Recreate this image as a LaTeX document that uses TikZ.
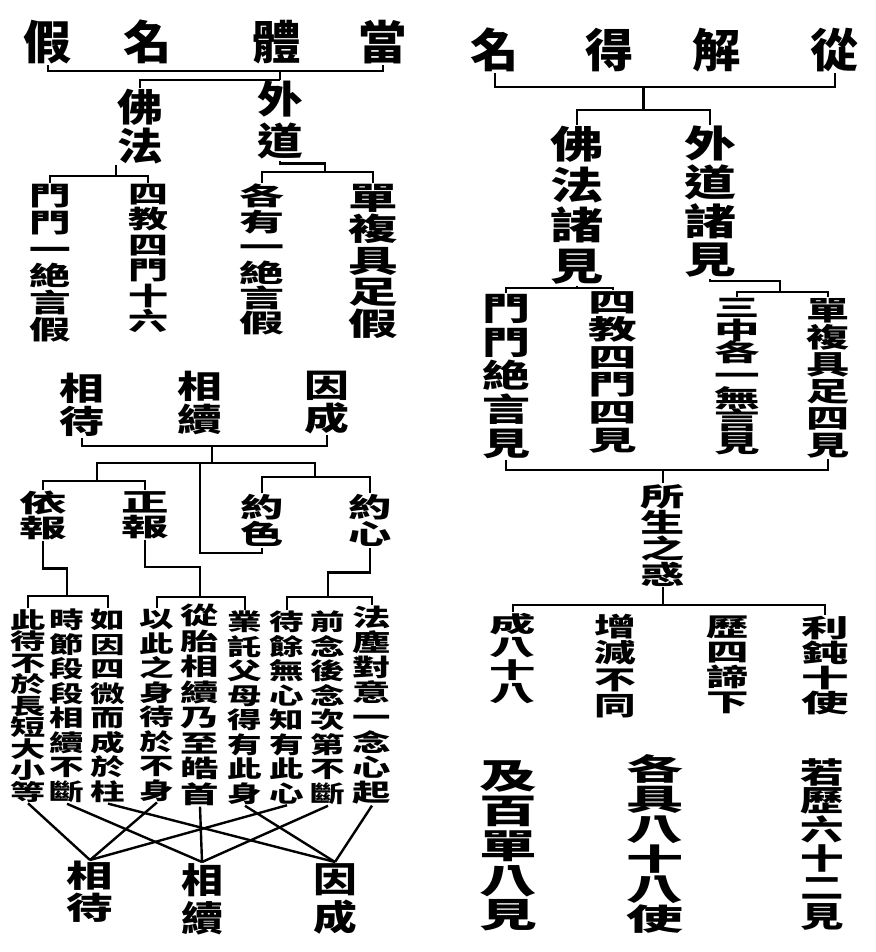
\documentclass[tikz,border=0pt]{standalone}
\usepackage{fontspec}
\newfontfamily\cjk{Noto Sans CJK TC}
\usetikzlibrary{calc}
\newcommand{\cf}[2]{\fontsize{#1}{#2}\selectfont\lineskiplimit=-100pt\relax\cjk\bfseries}

\begin{document}
\begin{tikzpicture}[x=1pt,y=-1pt]
  \tikzset{
      every node/.append style = {
          inner sep = 0pt,
          align = center
      },
      every path/.append style = {
          line width = 2.4pt
      },
      title/.style = {
          font = \cf{46}{46},
          xscale = 1.05
      },
      col/.style = {
          anchor = north
      }
  }
  \useasboundingbox (0,0) rectangle (875,952);

  % left tree
  \node[title] (hl1) at (48,42) {假};
  \node[title] (hl2) at (148,42) {名};
  \node[title] (hl3) at (277,42) {體};
  \node[title] (hl4) at (383,42) {當};
  \node[col, xscale=1.2, font=\cf{38}{39}] (fofa) at (140,88) {佛\\法};
  \node[col, xscale=1.2, font=\cf{38}{42}] (waidao) at (280,80) {外\\道};
  \node[col, xscale=1.6, font=\cf{26}{26.8}] (ll1) at (50,183) {門\\門\\一\\絶\\言\\假};
  \node[col, xscale=1.6, font=\cf{25}{25.4}] (ll2) at (148,183) {四\\教\\四\\門\\十\\六};
  \node[col, xscale=1.8, font=\cf{25}{25.4}] (ll3) at (262,183) {各\\有\\一\\絶\\言\\假};
  \node[col, xscale=1.6, font=\cf{31}{31.5}] (ll4) at (373,183) {單\\複\\具\\足\\假};
  \draw (hl1.south) -- ++(0,6) coordinate (lbar) -| (hl4.south);
  \draw (waidao.north) -- (waidao.north |- lbar);
  \draw (waidao.north) -| (fofa.north);
  \draw (ll1.north) -- ++(0,-7) coordinate (fbar) -| (ll2.north);
  \draw (fofa.south west) -- (fofa.south west |- fbar);
  \draw (ll3.north) -- ++(0,-11) coordinate (wbar) -| (ll4.north);
  \draw (waidao.south) -- ++(0,3) -- ++(45,0) |- (wbar);

  % right tree
  \node[title] (hr1) at (495,50) {名};
  \node[title] (hr2) at (610,50) {得};
  \node[title] (hr3) at (717,50) {解};
  \node[title] (hr4) at (835,50) {從};
  \node[col, xscale=1.4, font=\cf{38}{40.7}] (rfo) at (577,125) {佛\\法\\諸\\見};
  \node[col, xscale=1.4, font=\cf{37}{38.7}] (rwai) at (710,125) {外\\道\\諸\\見};
  \node[col, xscale=1.5, font=\cf{32}{33.75}] (r11) at (506,293) {門\\門\\絶\\言\\見};
  \node[col, xscale=1.8, font=\cf{27}{27.6}] (r12) at (613,290) {四\\教\\四\\門\\四\\見};
  \node[col, xscale=1.9, font=\cf{24}{22.7}] (r21) at (737,297) {三\\中\\各\\一\\無\\言\\見};
  \node[col, xscale=1.6, font=\cf{27}{27}] (r22) at (828,297) {單\\複\\具\\足\\四\\見};
  \node[col, xscale=1.7, font=\cf{26}{26}] (rsuo) at (663,483) {所\\生\\之\\惑};
  \node[col, xscale=2.1, font=\cf{22}{23}] (r31) at (513,612) {成\\八\\十\\八};
  \node[col, xscale=1.6, font=\cf{26}{26.3}] (r32) at (615,613) {增\\減\\不\\同};
  \node[col, xscale=1.7, font=\cf{25}{25}] (r33) at (728,615) {歷\\四\\諦\\下};
  \node[col, xscale=1.9, font=\cf{25}{25}] (r34) at (825,615) {利\\鈍\\十\\使};
  \node[col, xscale=1.7, font=\cf{34}{34.75}] (r41) at (508,760) {及\\百\\單\\八\\見};
  \node[col, xscale=1.9, font=\cf{30}{30}] (r42) at (655,753) {各\\具\\八\\十\\八\\使};
  \node[col, xscale=1.5, font=\cf{29}{28.8}] (r43) at (822,757) {若\\歷\\六\\十\\二\\見};
  \draw (hr1.south) -- ++(0,14) coordinate (rbar) -| (hr4.south);
  \draw (rfo.north) -- ++(0,-15) coordinate (rbar2) -| (rwai.north);
  \coordinate (rmid) at ($(rbar2)!.5!(rwai.north |- rbar2)$);
  \draw (rmid) -- (rmid |- rbar);
  \draw (r11.north) -- ++(0,-5) coordinate (fb) -| (r12.north);
  \draw (rfo.south) -- (rfo.south |- fb);
  \draw (r21.north) -- ++(0,-5) coordinate (wb) -| (r22.north);
  \draw (rwai.south) -- ++(0,2) -- ++(70,0) |- (wb);
  \draw (r11.south) -- ++(0,10) coordinate (bb) -| (r22.south);
  \draw (rsuo.north) -- (rsuo.north |- bb);
  \draw (r31.north) -- ++(0,-7) coordinate (sb) -| (r34.north);
  \draw (rsuo.south) -- (rsuo.south |- sb);

  % lower left
  \node[col, xscale=1.4, font=\cf{32}{33}] (t1) at (82,372) {相\\待};
  \node[col, xscale=1.4, font=\cf{32}{33}] (t2) at (200,370) {相\\續};
  \node[col, xscale=1.4, font=\cf{32}{33}] (t3) at (327,370) {因\\成};
  \node[col, xscale=1.9, font=\cf{25}{25}] (m1) at (43,490) {依\\報};
  \node[col, xscale=1.9, font=\cf{25}{25}] (m2) at (145,490) {正\\報};
  \node[col, xscale=1.6, font=\cf{27}{27}] (m3) at (262,493) {約\\色};
  \node[col, xscale=1.6, font=\cf{27}{27}] (m4) at (370,493) {約\\心};
  \node[col, xscale=1.6, font=\cf{22}{21.5}] (c1) at (28,608) {此\\待\\不\\於\\長\\短\\大\\小\\等};
  \node[col, xscale=1.5, font=\cf{23}{24.5}] (c2) at (67,608) {時\\節\\段\\段\\相\\續\\不\\斷};
  \node[col, xscale=1.5, font=\cf{23}{24.5}] (c3) at (108,608) {如\\因\\四\\微\\而\\成\\於\\柱};
  \node[col, xscale=1.5, font=\cf{23}{24.5}] (c4) at (157,608) {以\\此\\之\\身\\待\\於\\不\\身};
  \node[col, xscale=1.6, font=\cf{24}{25.5}] (c5) at (200,603) {從\\胎\\相\\續\\乃\\至\\皓\\首};
  \node[col, xscale=1.5, font=\cf{23}{24.5}] (c6) at (245,610) {業\\託\\父\\母\\得\\有\\此\\身};
  \node[col, xscale=1.5, font=\cf{23}{24.5}] (c7) at (287,610) {待\\餘\\無\\心\\知\\有\\此\\心};
  \node[col, xscale=1.5, font=\cf{23}{24.5}] (c8) at (328,610) {前\\念\\後\\念\\次\\第\\不\\斷};
  \node[col, xscale=1.6, font=\cf{24}{25}] (c9) at (372,605) {法\\塵\\對\\意\\一\\念\\心\\起};
  \node[col, xscale=1.5, font=\cf{31}{32}] (b1) at (90,860) {相\\待};
  \node[col, xscale=1.2, font=\cf{35}{38}] (b2) at (202,862) {相\\續};
  \node[col, xscale=1.25, font=\cf{35}{38}] (b3) at (335,862) {因\\成};
  \draw (t1.south) -- ++(0,8) coordinate (tb) -| (t3.south);
  \draw (m1.north) -- ++(0,-9) coordinate (mb1) -| (m2.north);
  \draw (m3.north) -- ++(0,-16) coordinate (mb2) -| (m4.north);
  \coordinate (tj) at (212,445);
  \coordinate (ma) at (97,481);
  \coordinate (mc) at (315,477);
  \coordinate (mm) at (200,463);
  \draw (tj) -- ++(0,18) coordinate (tk);
  \draw (ma) |- (tk) -| (mc);
  \draw (mm) -- ++(0,90) -| (m3.south);
  \draw (c1.north) -- ++(0,-12) coordinate (cb1) -| (c3.north);
  \draw (m1.south) -- ++(0,27) -| (c2.north |- cb1);
  \draw (c4.north) -- ++(0,-11) coordinate (cb2) -| (c6.north);
  \draw (m2.south) -- ++(0,27) -| (c5.north |- cb2);
  \draw (c7.north) -- ++(0,-13) coordinate (cb3) -| (c9.north);
  \draw (m4.south) -- ++(0,25) -| (c8.north |- cb3);
  \foreach \a/\b in {c1/b1, c4/b1, c7/b1, c2/b2, c5/b2, c8/b2, c3/b3, c6/b3, c9/b3}
      \draw (\a.south) -- (\b.north);
\end{tikzpicture}
\end{document}
